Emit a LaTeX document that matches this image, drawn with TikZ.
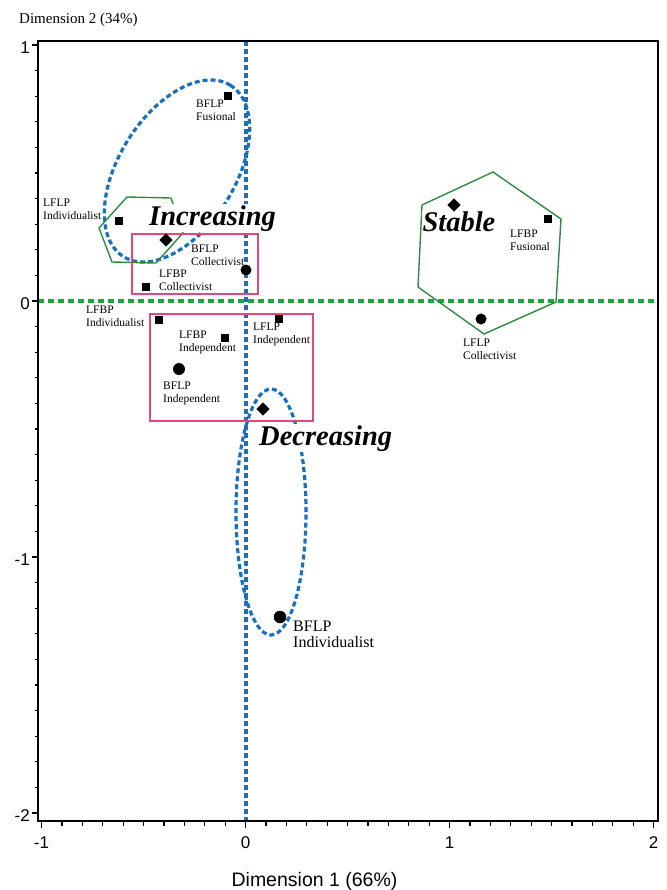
\documentclass[tikz,border=0pt]{standalone}
\usepackage{fontspec}
\setmainfont{Liberation Serif}
\newfontfamily\axisfont{Liberation Sans}
\usetikzlibrary{shapes.geometric}
\definecolor{dblue}{RGB}{22,112,196}
\definecolor{dgreen}{RGB}{30,165,60}
\definecolor{hexgreen}{RGB}{45,140,65}
\definecolor{rpink}{RGB}{228,70,125}
\tikzset{
  frameline/.style={line width=1.6bp, black},
  tickline/.style={line width=1.2bp, black},
  bluedash/.style={dblue, line width=3.2bp, dash pattern=on 5bp off 3bp},
  greendash/.style={dgreen, line width=3.2bp, dash pattern=on 6bp off 4bp},
  hexline/.style={hexgreen, line width=1.4bp, line join=miter},
  rectline/.style={rpink, line width=1.6bp},
  sqm/.style={rectangle, fill=black, inner sep=0pt, minimum size=7.5bp},
  circm/.style={circle, fill=black, inner sep=0pt, minimum size=11bp},
  diam/.style={diamond, fill=black, inner sep=0pt, minimum size=13.5bp},
  lab/.style={anchor=north west, inner sep=0pt, align=left, font=\fontsize{11.5bp}{13bp}\selectfont},
  biglab/.style={anchor=base west, inner sep=1bp, fill=white, font=\fontsize{28.5bp}{30bp}\selectfont\bfseries\itshape},
  ticklab/.style={font=\axisfont\fontsize{17bp}{19bp}\selectfont, inner sep=0pt}
}
\begin{document}
\begin{tikzpicture}[x=1bp,y=-1bp]
\useasboundingbox (0,0) rectangle (667,890);
\fill[white] (0,0) rectangle (667,890);

% axis titles
\node[anchor=base west, inner sep=0pt, font=\fontsize{15bp}{17bp}\selectfont] (dim2) at (19,23) {Dimension 2 (34\%)};
\node[anchor=base, inner sep=0pt, font=\axisfont\fontsize{19.5bp}{21bp}\selectfont] (dim1) at (314.5,886) {Dimension 1 (66\%)};

% ticks
\foreach \i in {0,...,30} {
  \pgfmathsetmacro\yy{45+25.6*\i}
  \pgfmathsetmacro\xx{41.5+20.4*\i}
  \pgfmathtruncatemacro\m{mod(\i,10)}
  \ifnum\m=0
    \draw[tickline] (38,\yy) -- (32,\yy);
    \draw[tickline] (\xx,821) -- (\xx,828);
  \else
    \draw[tickline] (38,\yy) -- (34.5,\yy);
    \draw[tickline] (\xx,821) -- (\xx,825.5);
  \fi
}
\node[ticklab, anchor=east] (yl1) at (30,48) {1};
\node[ticklab, anchor=east] (yl0) at (30,304) {0};
\node[ticklab, anchor=east] (ylm1) at (30,560) {-1};
\node[ticklab, anchor=east] (ylm2) at (30,816) {-2};
\node[ticklab] (xlm1) at (41.5,843) {-1};
\node[ticklab] (xl0) at (245.5,843) {0};
\node[ticklab] (xl1) at (449.5,843) {1};
\node[ticklab] (xl2) at (653.5,843) {2};

% dashed reference axes
\draw[greendash] (38,301) -- (658,301);
\draw[bluedash] (246,41) -- (246,821);

% frame
\draw[frameline] (38,41) rectangle (658,821);

% ellipses
\draw[bluedash, rotate around={58:(177,171)}] (177,171) ellipse [x radius=101bp, y radius=58bp];
\draw[bluedash] (271,512) ellipse [x radius=35bp, y radius=123bp];

% hexagons
\draw[hexline] (127,197) -- (171,198) -- (183,233) -- (156,263) -- (112,262) -- (99,228) -- cycle;
\draw[hexline] (493,172) -- (561,219) -- (556,302) -- (484,334) -- (418,287) -- (422,205) -- cycle;

% rectangles
\draw[rectline] (132,234) rectangle (258,294);
\draw[rectline] (150,314) rectangle (313,421);

% group labels
\node[biglab] (inc) at (148,225) {Increasing};
\node[biglab] (dec) at (258,445) {Decreasing};
\node[biglab, inner sep=0.3bp] (stab) at (422,231) {Stable};

% markers
\node[sqm] (bflpfus) at (228,96) {};
\node[sqm] (lflpind) at (119,221) {};
\node[diam] (incd) at (166,240) {};
\node[circm] (bflpcol) at (246,270) {};
\node[sqm] (lfbpcol) at (146,287) {};
\node[sqm] (lfbpind) at (159,320) {};
\node[sqm] (lfbpindep) at (225,338) {};
\node[sqm] (lflpindep) at (279,319) {};
\node[circm, minimum size=12bp] (bflpindep) at (179,369) {};
\node[diam] (decd) at (263,409) {};
\node[circm, minimum size=12.5bp] (bflpindiv) at (280,617) {};
\node[diam] (stabd) at (454,205) {};
\node[sqm] (lfbpfus) at (548,219) {};
\node[circm] (lflpcol) at (481,319) {};

% point labels
\node[lab] (t1) at (196,100) {BFLP\\Fusional};
\node[lab] (t2) at (43,199) {LFLP\\Individualist};
\node[lab] (t3) at (191,245) {BFLP\\Collectivist};
\node[lab] (t4) at (159,270) {LFBP\\Collectivist};
\node[lab] (t5) at (86,306) {LFBP\\Individualist};
\node[lab] (t6) at (179,331) {LFBP\\Independent};
\node[lab] (t7) at (253,323) {LFLP\\Independent};
\node[lab] (t8) at (163,382) {BFLP\\Independent};
\node[lab, font=\fontsize{16bp}{16.5bp}\selectfont] (t9) at (293,620.4) {BFLP\\Individualist};
\node[lab] (t10) at (510,230) {LFBP\\Fusional};
\node[lab] (t11) at (463,339) {LFLP\\Collectivist};
\end{tikzpicture}
\end{document}
